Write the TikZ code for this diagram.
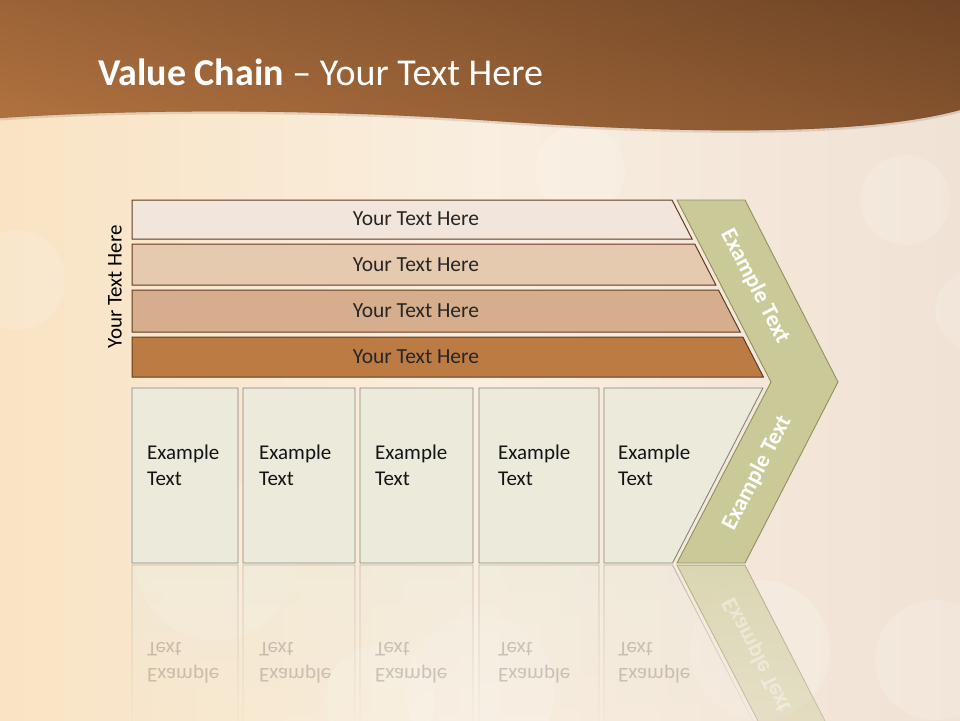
\documentclass[tikz,border=0pt]{standalone}
\usepackage{fontspec}
\setmainfont{Carlito}
\usetikzlibrary{fadings}
\definecolor{bgL}{HTML}{F9E3C3}
\definecolor{bgM}{HTML}{F9EEDF}
\definecolor{bgR}{HTML}{F0E2D5}
\definecolor{hdTop}{HTML}{7A4C2A}
\definecolor{hdBot}{HTML}{AC6E3E}
\definecolor{hdLeft}{HTML}{BC7B44}
\definecolor{hdRight}{HTML}{643E22}
\definecolor{barline}{HTML}{5E3B22}
\definecolor{barA}{HTML}{F2E6DC}
\definecolor{barB}{HTML}{E5CAB0}
\definecolor{barC}{HTML}{D6AE8E}
\definecolor{barD}{HTML}{BD7B44}
\definecolor{boxfill}{HTML}{ECEADB}
\definecolor{boxline}{HTML}{86847A}
\definecolor{chevfill}{HTML}{C9CA97}
\definecolor{chevline}{HTML}{8F9060}
\tikzset{
  barshape/.style={draw=barline, line width=1pt},
  boxshape/.style={draw=boxline, fill=boxfill, line width=0.9pt},
  chevshape/.style={draw=chevline, fill=chevfill, line width=0.9pt},
  bartext/.style={font=\fontsize{21.5}{25}\selectfont, text=black!85, anchor=center},
  boxtext/.style={font=\fontsize{21}{26}\selectfont, text=black!92, align=left, anchor=north west, inner sep=0pt},
  chevtext/.style={font=\bfseries\fontsize{23}{27}\selectfont, text=white, anchor=center},
  bokeh/.style={fill=white, opacity=0.16}
}
\newcommand{\boxpolys}{%
  (132,388) rectangle (238,563)
  (243,388) rectangle (355,563)
  (360,388) rectangle (473,563)
  (479,388) rectangle (599,563)
  (604,388) -- (762.9,388) -- (672.5,563) -- (604,563) -- cycle}
\newcommand{\chevpoly}{(677,200) -- (745,200) -- (838,382) -- (745,563) -- (677,563) -- (771,382) -- cycle}
\begin{document}
\begin{tikzpicture}[x=1pt,y=-1pt]
\useasboundingbox (0,0) rectangle (960,720);
% background
\shade[left color=bgL, right color=bgR, middle color=bgM] (0,0) rectangle (960,720);
\foreach \cx/\cy/\r in {580/170/45, 905/200/45, 975/310/40, 15/280/50, 480/690/75, 380/700/55, 215/560/80, 935/660/60, 760/650/70}
  \fill[bokeh] (\cx,\cy) circle (\r);
% header
\newcommand{\hdpath}{(0,0) -- (960,0) -- (960,110) .. controls (850,140) and (640,131) .. (480,120)
  .. controls (330,110) and (150,108) .. (0,118) -- cycle}
\shade[top color=hdTop, bottom color=hdBot] \hdpath;
\shade[left color=hdLeft, right color=hdRight, opacity=0.5] \hdpath;
\draw[barline, opacity=0.15, line width=3pt] (0,119) .. controls (150,109) and (330,111) .. (480,121)
  .. controls (640,132) and (850,141) .. (960,111);
\node[anchor=base west, text=white, font=\fontsize{38}{42}\selectfont, inner sep=0pt] (title) at (98,85)
  {\textbf{Value Chain} – Your Text Here};
% side label
\node[rotate=90, font=\fontsize{21}{24}\selectfont, text=black] (side) at (115,287) {Your Text Here};
% bars
\path[barshape, fill=barA] (132,200) -- (672,200) -- (692.1,239) -- (132,239) -- cycle;
\path[barshape, fill=barB] (132,244) -- (694.7,244) -- (715.9,285) -- (132,285) -- cycle;
\path[barshape, fill=barC] (132,290) -- (718.5,290) -- (740.2,332) -- (132,332) -- cycle;
\path[barshape, fill=barD] (132,337) -- (742.8,337) -- (763.4,377) -- (132,377) -- cycle;
\node[bartext] (b1) at (416,219) {Your Text Here};
\node[bartext] (b2) at (416,265) {Your Text Here};
\node[bartext] (b3) at (416,311) {Your Text Here};
\node[bartext] (b4) at (416,357) {Your Text Here};
% boxes
\path[boxshape] \boxpolys;
\node[boxtext] (e1) at (147,445) {Example\\Text};
\node[boxtext] (e2) at (259,445) {Example\\Text};
\node[boxtext] (e3) at (375,445) {Example\\Text};
\node[boxtext] (e4) at (498,445) {Example\\Text};
\node[boxtext] (e5) at (618,445) {Example\\Text};
% chevron
\path[chevshape] \chevpoly;
\node[chevtext, rotate=-62.7] (c1) at (755,286) {Example Text};
\node[chevtext, rotate=62.7] (c2) at (757,473) {Example Text};
% reflections
\begin{scope}[shift={(0,1128)}, yscale=-1]
  \path[boxshape, opacity=0.5, path fading=south] \boxpolys;
  \path[chevshape, opacity=0.6, path fading=south] \chevpoly;
  \foreach \nm/\xx in {r1/147, r2/259, r3/375, r4/498, r5/618}
    \node[boxtext, transform shape, text opacity=0.2] (\nm) at (\xx,445) {Example\\Text};
  \node[chevtext, rotate=62.7, transform shape, text opacity=0.4] (rc) at (757,473) {Example Text};
\end{scope}
\end{tikzpicture}
\end{document}
